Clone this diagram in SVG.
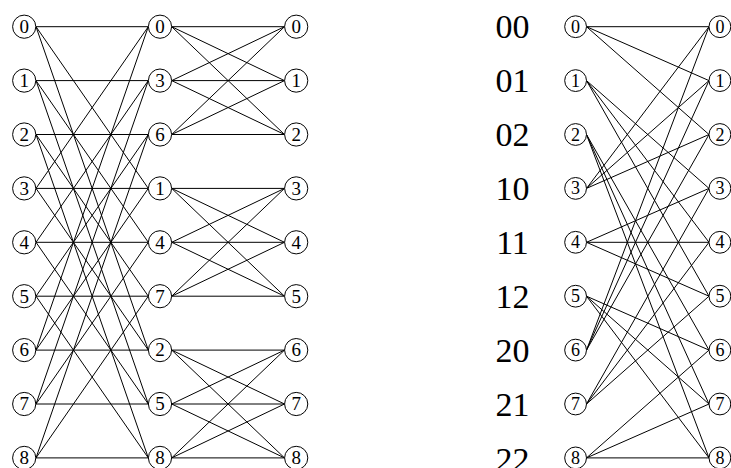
<svg xmlns="http://www.w3.org/2000/svg" width="731" height="468" viewBox="0 0 731 468">
<style>
.e{stroke:#000;stroke-width:1;fill:none}
.n circle{fill:#fff;stroke:#000;stroke-width:1}
.n text{font-family:"Liberation Serif",serif;font-size:19px;text-anchor:middle;fill:#000}
.r text{font-size:18px}
.lab{font-family:"Liberation Serif",serif;font-size:34px;text-anchor:middle;fill:#000}
</style>
<rect width="731" height="468" fill="#fff"/>
<g id="connectors" class="e">
<!-- stage 1 -->
<line x1="36" y1="26.7" x2="148.3" y2="26.7"/><line x1="36" y1="26.7" x2="148.3" y2="188.4"/><line x1="36" y1="26.7" x2="148.3" y2="350.1"/>
<line x1="36" y1="80.6" x2="148.3" y2="80.6"/><line x1="36" y1="80.6" x2="148.3" y2="242.3"/><line x1="36" y1="80.6" x2="148.3" y2="404"/>
<line x1="36" y1="134.5" x2="148.3" y2="134.5"/><line x1="36" y1="134.5" x2="148.3" y2="296.2"/><line x1="36" y1="134.5" x2="148.3" y2="457.9"/>
<line x1="36" y1="188.4" x2="148.3" y2="26.7"/><line x1="36" y1="188.4" x2="148.3" y2="188.4"/><line x1="36" y1="188.4" x2="148.3" y2="350.1"/>
<line x1="36" y1="242.3" x2="148.3" y2="80.6"/><line x1="36" y1="242.3" x2="148.3" y2="242.3"/><line x1="36" y1="242.3" x2="148.3" y2="404"/>
<line x1="36" y1="296.2" x2="148.3" y2="134.5"/><line x1="36" y1="296.2" x2="148.3" y2="296.2"/><line x1="36" y1="296.2" x2="148.3" y2="457.9"/>
<line x1="36" y1="350.1" x2="148.3" y2="26.7"/><line x1="36" y1="350.1" x2="148.3" y2="188.4"/><line x1="36" y1="350.1" x2="148.3" y2="350.1"/>
<line x1="36" y1="404" x2="148.3" y2="80.6"/><line x1="36" y1="404" x2="148.3" y2="242.3"/><line x1="36" y1="404" x2="148.3" y2="404"/>
<line x1="36" y1="457.9" x2="148.3" y2="134.5"/><line x1="36" y1="457.9" x2="148.3" y2="296.2"/><line x1="36" y1="457.9" x2="148.3" y2="457.9"/>
<!-- stage 2 -->
<line x1="171.7" y1="26.7" x2="284.5" y2="26.7"/><line x1="171.7" y1="26.7" x2="284.5" y2="80.6"/><line x1="171.7" y1="26.7" x2="284.5" y2="134.5"/>
<line x1="171.7" y1="80.6" x2="284.5" y2="26.7"/><line x1="171.7" y1="80.6" x2="284.5" y2="80.6"/><line x1="171.7" y1="80.6" x2="284.5" y2="134.5"/>
<line x1="171.7" y1="134.5" x2="284.5" y2="26.7"/><line x1="171.7" y1="134.5" x2="284.5" y2="80.6"/><line x1="171.7" y1="134.5" x2="284.5" y2="134.5"/>
<line x1="171.7" y1="188.4" x2="284.5" y2="188.4"/><line x1="171.7" y1="188.4" x2="284.5" y2="242.3"/><line x1="171.7" y1="188.4" x2="284.5" y2="296.2"/>
<line x1="171.7" y1="242.3" x2="284.5" y2="188.4"/><line x1="171.7" y1="242.3" x2="284.5" y2="242.3"/><line x1="171.7" y1="242.3" x2="284.5" y2="296.2"/>
<line x1="171.7" y1="296.2" x2="284.5" y2="188.4"/><line x1="171.7" y1="296.2" x2="284.5" y2="242.3"/><line x1="171.7" y1="296.2" x2="284.5" y2="296.2"/>
<line x1="171.7" y1="350.1" x2="284.5" y2="350.1"/><line x1="171.7" y1="350.1" x2="284.5" y2="404"/><line x1="171.7" y1="350.1" x2="284.5" y2="457.9"/>
<line x1="171.7" y1="404" x2="284.5" y2="350.1"/><line x1="171.7" y1="404" x2="284.5" y2="404"/><line x1="171.7" y1="404" x2="284.5" y2="457.9"/>
<line x1="171.7" y1="457.9" x2="284.5" y2="350.1"/><line x1="171.7" y1="457.9" x2="284.5" y2="404"/><line x1="171.7" y1="457.9" x2="284.5" y2="457.9"/>
<!-- right graph -->
<line x1="586.5" y1="26.7" x2="709" y2="26.7"/><line x1="586.5" y1="26.7" x2="709" y2="80.6"/><line x1="586.5" y1="26.7" x2="709" y2="134.5"/>
<line x1="586.5" y1="80.6" x2="709" y2="188.4"/><line x1="586.5" y1="80.6" x2="709" y2="242.3"/><line x1="586.5" y1="80.6" x2="709" y2="296.2"/>
<line x1="586.5" y1="134.5" x2="709" y2="350.1"/><line x1="586.5" y1="134.5" x2="709" y2="404"/><line x1="586.5" y1="134.5" x2="709" y2="457.9"/>
<line x1="586.5" y1="188.4" x2="709" y2="26.7"/><line x1="586.5" y1="188.4" x2="709" y2="80.6"/><line x1="586.5" y1="188.4" x2="709" y2="134.5"/>
<line x1="586.5" y1="242.3" x2="709" y2="188.4"/><line x1="586.5" y1="242.3" x2="709" y2="242.3"/><line x1="586.5" y1="242.3" x2="709" y2="296.2"/>
<line x1="586.5" y1="296.2" x2="709" y2="350.1"/><line x1="586.5" y1="296.2" x2="709" y2="404"/><line x1="586.5" y1="296.2" x2="709" y2="457.9"/>
<line x1="586.5" y1="350.1" x2="709" y2="26.7"/><line x1="586.5" y1="350.1" x2="709" y2="80.6"/><line x1="586.5" y1="350.1" x2="709" y2="134.5"/>
<line x1="586.5" y1="404" x2="709" y2="188.4"/><line x1="586.5" y1="404" x2="709" y2="242.3"/><line x1="586.5" y1="404" x2="709" y2="296.2"/>
<line x1="586.5" y1="457.9" x2="709" y2="350.1"/><line x1="586.5" y1="457.9" x2="709" y2="404"/><line x1="586.5" y1="457.9" x2="709" y2="457.9"/>
</g>
<!-- left column 1 -->
<g id="a0" class="n"><circle cx="24.2" cy="26.7" r="11.6"/><text x="24.2" y="33">0</text></g>
<g id="a1" class="n"><circle cx="24.2" cy="80.6" r="11.6"/><text x="24.2" y="86.9">1</text></g>
<g id="a2" class="n"><circle cx="24.2" cy="134.5" r="11.6"/><text x="24.2" y="140.8">2</text></g>
<g id="a3" class="n"><circle cx="24.2" cy="188.4" r="11.6"/><text x="24.2" y="194.7">3</text></g>
<g id="a4" class="n"><circle cx="24.2" cy="242.3" r="11.6"/><text x="24.2" y="248.6">4</text></g>
<g id="a5" class="n"><circle cx="24.2" cy="296.2" r="11.6"/><text x="24.2" y="302.5">5</text></g>
<g id="a6" class="n"><circle cx="24.2" cy="350.1" r="11.6"/><text x="24.2" y="356.4">6</text></g>
<g id="a7" class="n"><circle cx="24.2" cy="404" r="11.6"/><text x="24.2" y="410.3">7</text></g>
<g id="a8" class="n"><circle cx="24.2" cy="457.9" r="11.6"/><text x="24.2" y="464.2">8</text></g>
<!-- left column 2 -->
<g id="b0" class="n"><circle cx="160" cy="26.7" r="11.6"/><text x="160" y="33">0</text></g>
<g id="b3" class="n"><circle cx="160" cy="80.6" r="11.6"/><text x="160" y="86.9">3</text></g>
<g id="b6" class="n"><circle cx="160" cy="134.5" r="11.6"/><text x="160" y="140.8">6</text></g>
<g id="b1" class="n"><circle cx="160" cy="188.4" r="11.6"/><text x="160" y="194.7">1</text></g>
<g id="b4" class="n"><circle cx="160" cy="242.3" r="11.6"/><text x="160" y="248.6">4</text></g>
<g id="b7" class="n"><circle cx="160" cy="296.2" r="11.6"/><text x="160" y="302.5">7</text></g>
<g id="b2" class="n"><circle cx="160" cy="350.1" r="11.6"/><text x="160" y="356.4">2</text></g>
<g id="b5" class="n"><circle cx="160" cy="404" r="11.6"/><text x="160" y="410.3">5</text></g>
<g id="b8" class="n"><circle cx="160" cy="457.9" r="11.6"/><text x="160" y="464.2">8</text></g>
<!-- left column 3 -->
<g id="c0" class="n"><circle cx="296.2" cy="26.7" r="11.6"/><text x="296.2" y="33">0</text></g>
<g id="c1" class="n"><circle cx="296.2" cy="80.6" r="11.6"/><text x="296.2" y="86.9">1</text></g>
<g id="c2" class="n"><circle cx="296.2" cy="134.5" r="11.6"/><text x="296.2" y="140.8">2</text></g>
<g id="c3" class="n"><circle cx="296.2" cy="188.4" r="11.6"/><text x="296.2" y="194.7">3</text></g>
<g id="c4" class="n"><circle cx="296.2" cy="242.3" r="11.6"/><text x="296.2" y="248.6">4</text></g>
<g id="c5" class="n"><circle cx="296.2" cy="296.2" r="11.6"/><text x="296.2" y="302.5">5</text></g>
<g id="c6" class="n"><circle cx="296.2" cy="350.1" r="11.6"/><text x="296.2" y="356.4">6</text></g>
<g id="c7" class="n"><circle cx="296.2" cy="404" r="11.6"/><text x="296.2" y="410.3">7</text></g>
<g id="c8" class="n"><circle cx="296.2" cy="457.9" r="11.6"/><text x="296.2" y="464.2">8</text></g>
<!-- right labels -->
<g id="labels">
<text class="lab" x="512.5" y="38.4">00</text>
<text class="lab" x="512.5" y="92.3">01</text>
<text class="lab" x="512.5" y="146.2">02</text>
<text class="lab" x="512.5" y="200.1">10</text>
<text class="lab" x="512.5" y="254">11</text>
<text class="lab" x="512.5" y="307.9">12</text>
<text class="lab" x="512.5" y="361.8">20</text>
<text class="lab" x="512.5" y="415.7">21</text>
<text class="lab" x="512.5" y="470.5">22</text>
</g>
<!-- right column A -->
<g id="d0" class="n r"><circle cx="575.6" cy="26.7" r="10.9"/><text x="575.6" y="32.7">0</text></g>
<g id="d1" class="n r"><circle cx="575.6" cy="80.6" r="10.9"/><text x="575.6" y="86.6">1</text></g>
<g id="d2" class="n r"><circle cx="575.6" cy="134.5" r="10.9"/><text x="575.6" y="140.5">2</text></g>
<g id="d3" class="n r"><circle cx="575.6" cy="188.4" r="10.9"/><text x="575.6" y="194.4">3</text></g>
<g id="d4" class="n r"><circle cx="575.6" cy="242.3" r="10.9"/><text x="575.6" y="248.3">4</text></g>
<g id="d5" class="n r"><circle cx="575.6" cy="296.2" r="10.9"/><text x="575.6" y="302.2">5</text></g>
<g id="d6" class="n r"><circle cx="575.6" cy="350.1" r="10.9"/><text x="575.6" y="356.1">6</text></g>
<g id="d7" class="n r"><circle cx="575.6" cy="404" r="10.9"/><text x="575.6" y="410">7</text></g>
<g id="d8" class="n r"><circle cx="575.6" cy="457.9" r="10.9"/><text x="575.6" y="463.9">8</text></g>
<!-- right column B -->
<g id="e0" class="n r"><circle cx="719.9" cy="26.7" r="10.9"/><text x="719.9" y="32.7">0</text></g>
<g id="e1" class="n r"><circle cx="719.9" cy="80.6" r="10.9"/><text x="719.9" y="86.6">1</text></g>
<g id="e2" class="n r"><circle cx="719.9" cy="134.5" r="10.9"/><text x="719.9" y="140.5">2</text></g>
<g id="e3" class="n r"><circle cx="719.9" cy="188.4" r="10.9"/><text x="719.9" y="194.4">3</text></g>
<g id="e4" class="n r"><circle cx="719.9" cy="242.3" r="10.9"/><text x="719.9" y="248.3">4</text></g>
<g id="e5" class="n r"><circle cx="719.9" cy="296.2" r="10.9"/><text x="719.9" y="302.2">5</text></g>
<g id="e6" class="n r"><circle cx="719.9" cy="350.1" r="10.9"/><text x="719.9" y="356.1">6</text></g>
<g id="e7" class="n r"><circle cx="719.9" cy="404" r="10.9"/><text x="719.9" y="410">7</text></g>
<g id="e8" class="n r"><circle cx="719.9" cy="457.9" r="10.9"/><text x="719.9" y="463.9">8</text></g>
</svg>
